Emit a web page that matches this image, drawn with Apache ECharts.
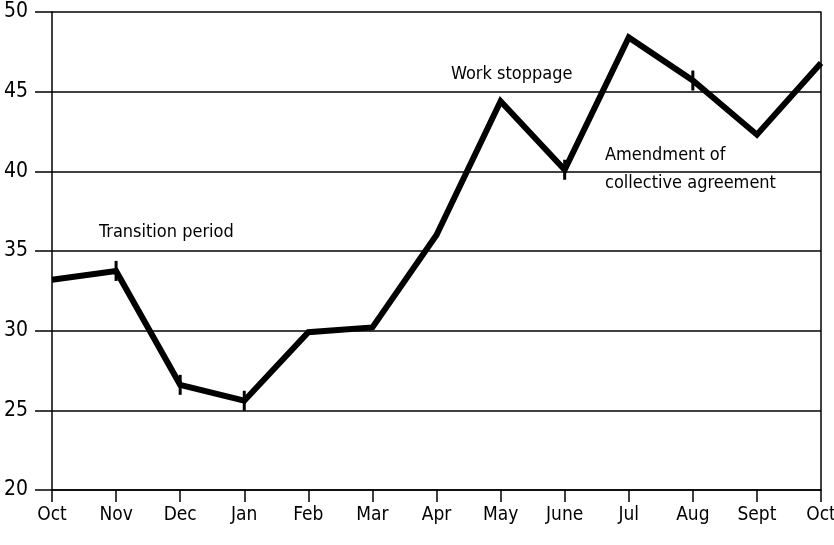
<!DOCTYPE html>
<html>
<head>
<meta charset="utf-8">
<script src="https://cdn.jsdelivr.net/npm/echarts@6/dist/echarts.min.js"></script>
<style>
html,body{margin:0;padding:0;background:#fff;}
#c{width:834px;height:545px;}
</style>
</head>
<body>
<div id="c"></div>
<script>
const months = ['Oct','Nov','Dec','Jan','Feb','Mar','Apr','May','June','Jul','Aug','Sept','Oct'];
const values = [33.2, 33.75, 26.6, 25.6, 29.9, 30.2, 36.0, 44.4, 40.1, 48.4, 45.7, 42.3, 46.8];
const markedIdx = [1, 2, 3, 8, 10];
const yTicks = [20, 25, 30, 35, 40, 45, 50];
const notes = [
  {text: 'Transition period', x: 99, y: 233},
  {text: 'Work stoppage', x: 451, y: 75},
  {text: 'Amendment of', x: 605, y: 156},
  {text: 'collective agreement', x: 605, y: 184}
];

const FONT = '"Liberation Sans Narrow", "DejaVu Sans Condensed", "Liberation Sans", sans-serif';

const seriesData = values.map((v, i) => markedIdx.includes(i)
  ? {value: v, symbol: 'rect', symbolSize: [3, 20], itemStyle: {color: '#000'}}
  : {value: v, symbol: 'none'});

const chart = echarts.init(document.getElementById('c'), null, {renderer: 'canvas'});
chart.setOption({
  animation: false,
  backgroundColor: '#fff',
  grid: {left: 52, right: 13, top: 12, bottom: 55, containLabel: false, outerBoundsMode: 'none', show: false},
  xAxis: {
    type: 'category',
    data: months.map((m, i) => i),
    boundaryGap: false,
    axisLine: {show: true, lineStyle: {color: '#000', width: 1.5}},
    axisTick: {show: true, inside: false, length: 12, lineStyle: {color: '#000', width: 1.5}, interval: 0},
    axisLabel: {
      interval: 0, margin: 16, color: '#000', fontFamily: FONT, fontSize: 19,
      hideOverlap: false,
      formatter: (v) => months[+v]
    },
    splitLine: {show: false}
  },
  yAxis: [{
    type: 'value',
    min: yTicks[0], max: yTicks[yTicks.length - 1], interval: 5,
    axisLine: {show: true, lineStyle: {color: '#000', width: 1.5}},
    axisTick: {show: true, inside: false, length: 17, lineStyle: {color: '#000', width: 1.5}},
    axisLabel: {margin: 24, color: '#000', fontFamily: FONT, fontSize: 21},
    splitLine: {show: true, lineStyle: {color: '#000', width: 1.5}}
  }, {
    type: 'value',
    min: yTicks[0], max: yTicks[yTicks.length - 1], interval: 5,
    position: 'right',
    axisLine: {show: true, lineStyle: {color: '#000', width: 1.5}},
    axisTick: {show: false},
    axisLabel: {show: false},
    splitLine: {show: false}
  }],
  series: [{
    type: 'line',
    data: seriesData,
    lineStyle: {color: '#000', width: 6, join: 'miter'},
    itemStyle: {color: '#000'},
    showSymbol: true,
    z: 5
  }],
  graphic: notes.map(n => ({
    type: 'text',
    left: n.x,
    top: n.y - 10,
    style: {text: n.text, fill: '#000', font: '18px ' + FONT}
  }))
});
</script>
</body>
</html>
